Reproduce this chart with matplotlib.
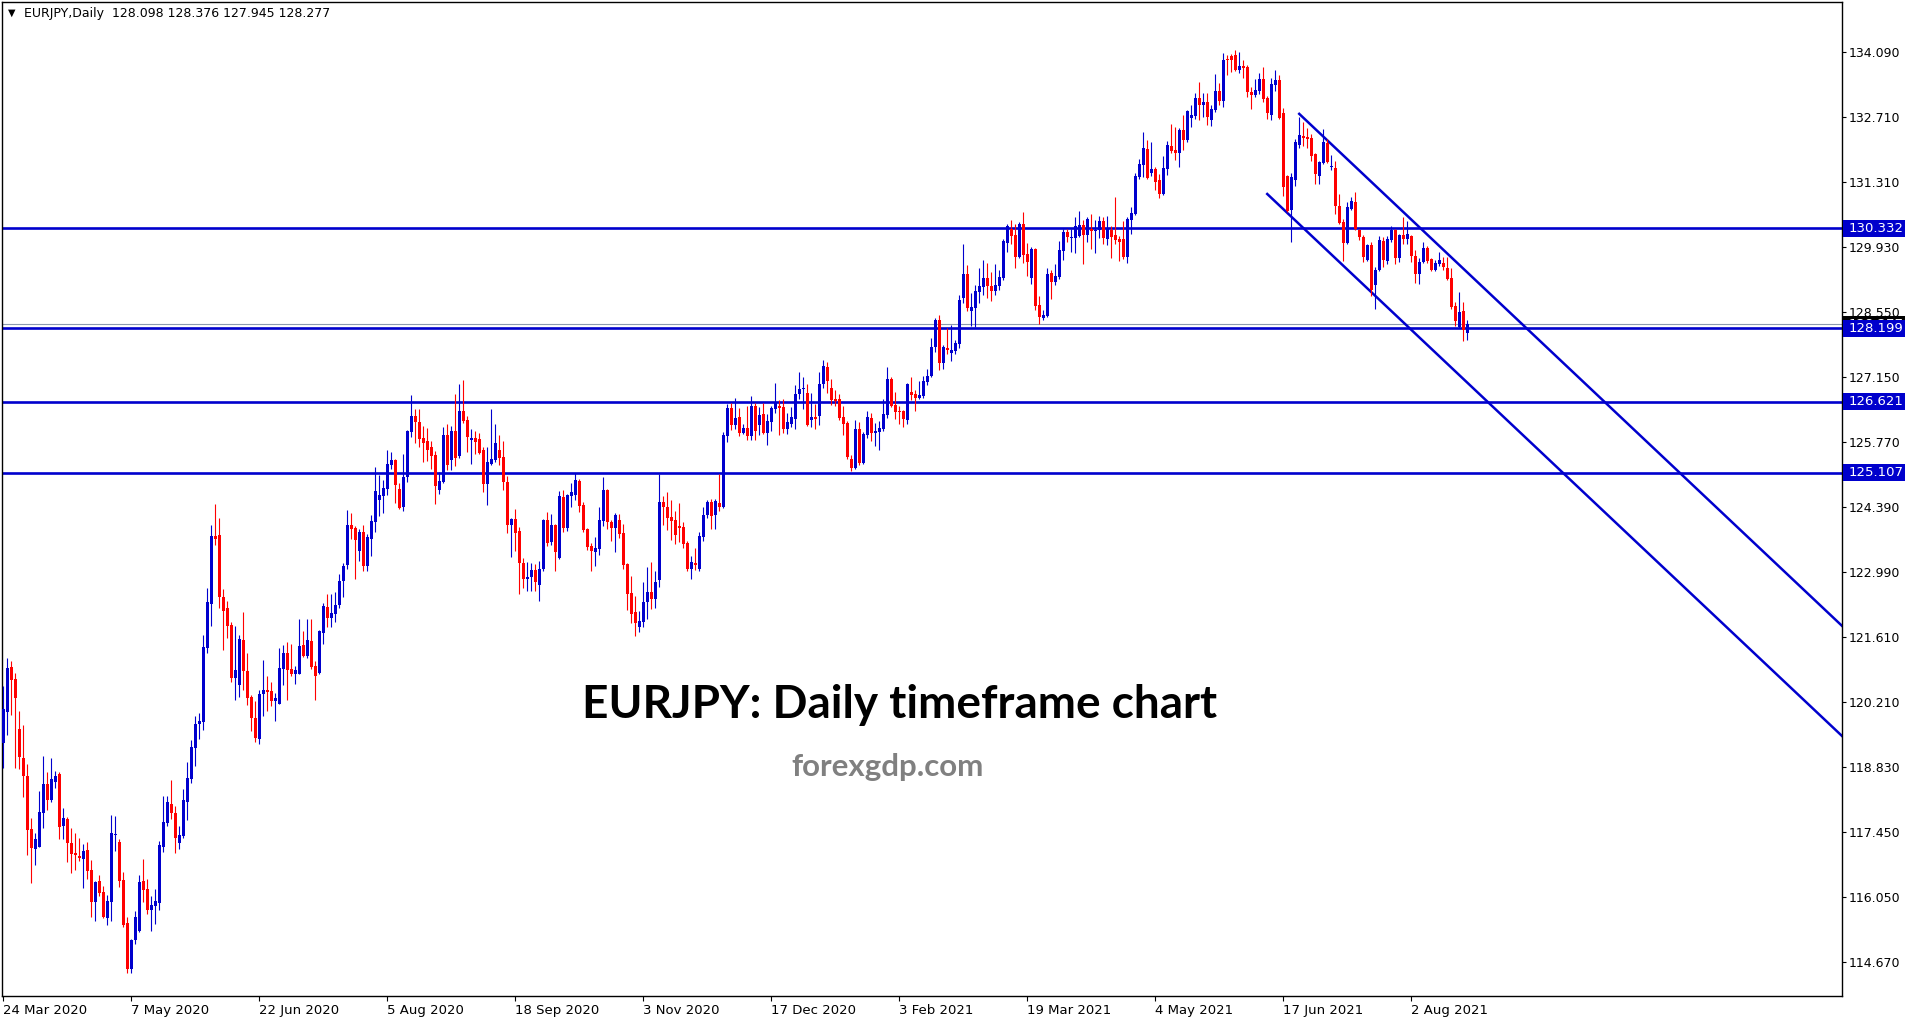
import numpy as np
import matplotlib.pyplot as plt
from matplotlib.patches import Rectangle
from matplotlib.transforms import blended_transform_factory

# EURJPY daily candles, 24 Mar 2020 .. 20 Aug 2021
opens = [
    119.34, 120.01, 120.96, 120.71, 119.64, 119.03, 118.64, 117.51, 117.09, 117.13,
    117.86, 118.47, 118.13, 118.52, 118.68, 117.58, 117.72, 117.21, 117.00, 116.93,
    116.87, 117.05, 116.63, 115.96, 116.40, 116.17, 115.62, 115.96, 117.38, 117.23,
    116.42, 115.50, 114.53, 115.13, 115.34, 116.40, 116.23, 115.79, 115.87, 115.94,
    117.13, 117.64, 118.04, 117.85, 117.22, 117.37, 118.09, 118.58, 119.24, 119.76,
    119.80, 121.38, 122.32, 123.76, 123.78, 122.46, 122.23, 121.86, 120.74, 120.59,
    121.54, 120.88, 120.33, 119.87, 119.42, 120.38, 120.48, 120.45, 120.25, 120.18,
    120.93, 121.26, 120.92, 120.82, 120.82, 121.44, 121.19, 121.52, 120.99, 120.84,
    121.70, 122.25, 122.01, 122.10, 122.29, 122.80, 123.15, 124.00, 123.94, 123.44,
    123.85, 123.13, 123.70, 124.05, 124.53, 124.62, 124.77, 125.28, 125.38, 124.77,
    124.37, 125.01, 125.98, 126.32, 126.19, 125.85, 125.79, 125.66, 125.49, 124.75,
    124.91, 125.92, 125.38, 126.00, 125.47, 126.43, 126.24, 125.81, 125.85, 125.83,
    125.60, 124.87, 125.30, 125.38, 125.60, 125.45, 124.92, 124.00, 124.12, 123.87,
    123.19, 122.85, 122.89, 123.04, 122.72, 123.06, 124.10, 123.64, 123.99, 123.30,
    124.60, 123.94, 124.62, 124.64, 124.94, 124.42, 123.92, 123.55, 123.43, 123.49,
    124.09, 124.75, 124.07, 123.94, 124.11, 123.83, 123.17, 122.55, 122.13, 121.81,
    121.93, 122.36, 122.57, 122.42, 122.83, 124.49, 124.39, 124.17, 124.11, 123.98,
    123.96, 123.62, 123.06, 123.19, 123.06, 123.75, 124.22, 124.49, 124.22, 124.47,
    124.37, 125.90, 126.49, 126.12, 126.30, 125.97, 126.06, 125.90, 126.54, 126.13,
    126.37, 125.97, 126.20, 126.47, 126.54, 126.52, 126.05, 126.15, 126.26, 126.79,
    126.90, 126.81, 126.24, 126.30, 126.32, 127.01, 127.37, 126.92, 126.69, 126.69,
    126.30, 126.17, 125.41, 125.21, 126.05, 125.32, 125.92, 126.28, 125.96, 125.98,
    126.05, 126.35, 127.11, 126.56, 126.43, 126.43, 126.24, 126.84, 126.79, 126.71,
    126.75, 127.05, 127.18, 127.80, 128.37, 127.45, 127.78, 127.67, 127.71, 127.86,
    128.84, 129.35, 128.56, 128.63, 128.97, 129.08, 129.27, 129.10, 128.99, 129.10,
    129.27, 130.02, 130.31, 130.18, 129.71, 130.42, 129.78, 129.27, 129.89, 128.69,
    128.41, 128.46, 129.37, 129.18, 129.29, 129.84, 130.25, 130.12, 130.12, 130.16,
    130.40, 130.18, 130.31, 130.27, 130.29, 130.48, 130.10, 130.29, 130.18, 130.10,
    130.10, 129.71, 130.50, 130.63, 131.42, 131.68, 132.02, 131.51, 131.59, 131.36,
    131.06, 131.59, 132.08, 132.00, 131.93, 132.43, 132.21, 132.68, 132.72, 133.11,
    132.96, 133.02, 132.64, 132.85, 133.26, 133.04, 133.94, 134.00, 134.03, 133.71,
    133.79, 133.77, 133.24, 133.17, 133.26, 133.51, 133.11, 132.75, 133.39, 133.49,
    132.79, 131.44, 130.72, 131.36, 132.10, 132.30, 132.28, 132.25, 131.91, 131.44,
    131.72, 132.15, 131.63, 131.61, 130.80, 130.46, 130.01, 130.74, 130.89, 130.29,
    130.14, 129.65, 129.97, 129.12, 129.44, 130.06, 129.63, 130.08, 130.29, 129.69,
    130.18, 130.10, 130.16, 129.74, 129.35, 129.61, 129.91, 129.67, 129.44, 129.57,
    129.59, 129.48, 129.27, 128.67, 128.22, 128.56, 128.098,
]
highs = [
    120.56, 121.15, 121.09, 120.84, 120.03, 119.73, 118.90, 117.75, 117.43, 118.32,
    119.07, 118.73, 119.03, 118.75, 118.73, 117.96, 117.77, 117.53, 117.42, 117.32,
    117.19, 117.24, 116.85, 116.40, 116.52, 116.29, 116.10, 117.81, 117.79, 117.29,
    116.59, 115.64, 115.16, 115.76, 116.53, 116.87, 116.44, 116.08, 116.23, 117.25,
    118.22, 118.21, 118.55, 118.01, 117.57, 118.36, 118.94, 119.41, 119.92, 119.98,
    121.65, 122.66, 123.99, 124.45, 124.15, 122.63, 122.37, 121.93, 121.85, 121.65,
    122.14, 121.26, 120.37, 120.24, 120.48, 121.12, 120.77, 120.65, 120.42, 121.38,
    121.44, 121.50, 121.45, 120.99, 121.99, 121.74, 121.99, 121.99, 121.09, 121.75,
    122.34, 122.52, 122.52, 122.57, 122.95, 123.18, 124.32, 124.26, 123.98, 123.91,
    124.00, 123.81, 124.21, 125.24, 125.06, 124.96, 125.60, 125.55, 125.40, 124.89,
    125.51, 126.02, 126.77, 126.47, 126.47, 126.11, 126.07, 125.79, 125.58, 125.13,
    126.09, 126.16, 126.11, 126.79, 127.00, 127.10, 126.32, 126.04, 126.00, 125.96,
    125.66, 125.66, 126.47, 126.15, 125.92, 125.79, 125.05, 124.14, 124.34, 123.95,
    123.29, 123.21, 123.19, 123.16, 123.23, 124.13, 124.27, 124.23, 124.02, 124.73,
    124.74, 124.66, 124.90, 125.10, 124.98, 124.49, 123.94, 123.62, 123.74, 124.37,
    125.03, 124.77, 124.11, 124.26, 124.24, 124.02, 123.19, 122.91, 122.49, 122.17,
    122.79, 123.11, 123.21, 123.02, 125.09, 124.62, 124.71, 124.54, 124.30, 124.47,
    124.07, 123.66, 123.33, 123.50, 123.85, 124.37, 124.54, 124.56, 124.56, 125.09,
    125.98, 126.58, 126.60, 126.71, 126.50, 126.15, 126.54, 126.75, 126.59, 126.52,
    126.61, 126.37, 126.54, 127.03, 126.66, 126.69, 126.39, 126.52, 126.98, 127.26,
    127.16, 127.01, 126.81, 126.58, 127.26, 127.52, 127.48, 127.11, 126.88, 126.79,
    126.54, 126.22, 125.49, 126.24, 126.20, 125.98, 126.43, 126.39, 126.17, 126.22,
    126.69, 127.37, 127.16, 126.84, 126.54, 126.45, 127.03, 127.16, 126.88, 127.07,
    127.18, 127.33, 127.99, 128.41, 128.48, 127.84, 128.20, 128.27, 127.94, 128.91,
    129.99, 129.54, 128.95, 129.12, 129.48, 129.65, 129.59, 129.40, 129.57, 129.44,
    130.10, 130.42, 130.50, 130.42, 130.46, 130.67, 130.01, 129.93, 129.91, 128.88,
    128.58, 129.48, 129.44, 129.57, 130.06, 130.31, 130.31, 130.31, 130.57, 130.70,
    130.50, 130.57, 130.63, 130.50, 130.59, 130.57, 130.59, 130.38, 130.99, 130.16,
    130.48, 130.57, 130.78, 131.51, 131.81, 132.38, 132.21, 132.17, 131.64, 131.49,
    131.87, 132.19, 132.55, 132.49, 132.47, 132.75, 132.85, 132.96, 133.22, 133.45,
    133.22, 133.22, 132.96, 133.62, 133.43, 134.07, 134.03, 134.05, 134.13, 134.09,
    133.92, 133.81, 133.34, 133.51, 133.64, 133.77, 133.15, 133.54, 133.71, 133.60,
    132.90, 131.46, 131.51, 132.23, 132.70, 132.60, 132.47, 132.34, 131.93, 131.76,
    132.45, 132.23, 131.89, 131.76, 131.06, 130.53, 130.89, 130.99, 131.10, 130.31,
    130.18, 129.99, 130.04, 129.50, 130.16, 130.14, 130.16, 130.38, 130.31, 130.21,
    130.57, 130.48, 130.18, 129.86, 129.69, 130.04, 129.95, 129.69, 129.65, 129.82,
    129.71, 129.71, 129.48, 128.75, 128.97, 128.75, 128.376,
]
lows = [
    118.82, 119.51, 119.94, 118.82, 118.79, 118.20, 116.95, 116.36, 116.75, 117.12,
    117.52, 117.91, 118.09, 118.39, 117.30, 117.30, 116.81, 116.56, 116.64, 116.83,
    116.24, 116.45, 115.64, 115.55, 116.07, 115.61, 115.47, 115.55, 117.03, 116.28,
    115.42, 114.44, 114.44, 115.05, 115.31, 115.96, 115.70, 115.34, 115.49, 115.77,
    117.02, 117.58, 117.73, 117.00, 117.09, 117.32, 117.71, 118.50, 118.86, 119.44,
    119.63, 121.27, 121.85, 123.56, 122.23, 121.33, 121.59, 120.65, 120.27, 120.33,
    120.48, 120.16, 119.59, 119.37, 119.32, 119.91, 120.03, 120.14, 119.82, 120.18,
    120.59, 120.27, 120.77, 120.61, 120.82, 121.17, 121.15, 120.92, 120.27, 120.82,
    121.46, 121.82, 121.82, 121.92, 122.23, 122.46, 123.06, 123.70, 122.85, 123.23,
    123.02, 123.02, 123.34, 123.85, 124.19, 124.26, 124.64, 125.20, 124.47, 124.34,
    124.30, 124.92, 125.87, 125.75, 125.67, 125.35, 125.36, 125.20, 124.45, 124.66,
    124.89, 125.18, 125.17, 125.26, 125.42, 126.17, 125.55, 125.30, 125.51, 125.51,
    124.70, 124.43, 125.28, 125.34, 125.28, 124.74, 123.83, 123.32, 123.45, 122.53,
    122.66, 122.59, 122.59, 122.59, 122.38, 123.02, 123.54, 123.58, 123.02, 123.28,
    123.85, 123.87, 124.37, 124.52, 124.28, 123.85, 123.47, 123.02, 123.13, 123.36,
    123.98, 123.92, 123.66, 123.41, 123.72, 123.06, 122.19, 121.91, 121.63, 121.72,
    121.81, 121.98, 122.21, 122.23, 122.68, 124.00, 123.90, 123.68, 123.60, 123.64,
    123.51, 123.02, 122.85, 123.04, 123.02, 123.66, 124.15, 123.92, 123.92, 124.30,
    124.35, 125.77, 126.03, 126.05, 125.90, 125.93, 125.80, 125.80, 125.80, 125.92,
    125.94, 125.70, 126.01, 126.39, 125.92, 125.97, 125.94, 126.09, 126.05, 126.69,
    126.47, 126.11, 126.09, 126.05, 126.13, 126.92, 126.81, 126.56, 126.54, 126.24,
    125.92, 125.41, 125.15, 125.19, 125.28, 125.30, 125.85, 125.79, 125.68, 125.60,
    126.00, 126.28, 126.52, 126.26, 126.15, 126.09, 126.15, 126.67, 126.43, 126.69,
    126.71, 126.98, 127.16, 127.69, 127.30, 127.33, 127.65, 127.50, 127.65, 127.77,
    128.73, 128.56, 128.24, 128.22, 128.73, 128.90, 128.84, 128.78, 128.91, 129.01,
    129.22, 129.82, 129.99, 129.48, 129.69, 129.59, 129.31, 129.14, 128.58, 128.29,
    128.37, 128.44, 128.82, 129.12, 129.25, 129.65, 130.04, 129.82, 129.80, 130.14,
    129.57, 130.04, 129.89, 129.80, 130.12, 129.99, 129.97, 129.70, 129.99, 129.63,
    129.67, 129.59, 130.21, 130.61, 131.38, 131.42, 131.38, 131.44, 131.15, 130.97,
    131.04, 131.47, 131.93, 131.79, 131.64, 132.00, 132.17, 132.49, 132.66, 132.64,
    132.70, 132.53, 132.51, 132.81, 132.96, 132.92, 133.60, 133.66, 133.69, 133.64,
    133.54, 133.13, 132.87, 133.13, 133.19, 133.02, 132.66, 132.64, 133.26, 132.66,
    131.02, 130.67, 130.03, 131.23, 132.04, 132.08, 132.04, 131.76, 131.27, 131.27,
    131.70, 131.72, 131.57, 130.63, 130.42, 129.63, 129.99, 130.72, 130.29, 130.08,
    129.61, 129.63, 128.88, 128.61, 129.42, 129.50, 129.57, 130.04, 129.57, 129.61,
    129.99, 129.99, 129.61, 129.16, 129.14, 129.59, 129.59, 129.42, 129.42, 129.52,
    129.44, 129.22, 128.60, 128.24, 128.20, 127.92, 127.945,
]
closes = [
    120.06, 120.94, 120.69, 120.31, 119.05, 118.63, 117.49, 117.11, 117.29, 117.87,
    118.47, 118.13, 118.58, 118.64, 117.56, 117.74, 117.22, 116.98, 116.95, 116.89,
    117.04, 116.62, 115.96, 116.38, 116.15, 115.63, 115.97, 117.42, 117.41, 116.39,
    115.46, 114.53, 115.14, 115.63, 116.38, 116.21, 115.79, 115.89, 115.97, 117.17,
    117.66, 118.09, 117.84, 117.32, 117.38, 118.13, 118.60, 119.26, 119.75, 119.81,
    121.39, 122.35, 123.76, 123.70, 122.47, 122.17, 121.85, 120.74, 120.90, 121.56,
    120.89, 120.31, 119.88, 119.46, 120.39, 120.48, 120.44, 120.25, 120.30, 120.95,
    121.26, 120.91, 120.82, 120.90, 121.41, 121.19, 121.54, 120.97, 120.78, 121.73,
    122.27, 122.02, 122.12, 122.29, 122.80, 123.12, 124.00, 123.91, 123.68, 123.85,
    123.13, 123.73, 124.08, 124.72, 124.64, 124.79, 125.30, 125.38, 124.84, 124.36,
    125.02, 126.00, 126.32, 126.19, 125.84, 125.75, 125.60, 125.47, 124.83, 124.94,
    125.92, 125.28, 126.00, 125.43, 126.43, 126.22, 125.87, 125.85, 125.77, 125.53,
    124.87, 125.34, 125.40, 125.75, 125.43, 124.92, 124.00, 124.13, 123.83, 123.19,
    122.85, 122.89, 123.04, 122.77, 123.06, 124.11, 123.61, 123.99, 123.41, 124.62,
    123.94, 124.64, 124.69, 124.96, 124.41, 123.90, 123.53, 123.45, 123.51, 124.11,
    124.75, 124.05, 123.94, 124.22, 123.81, 123.15, 122.53, 122.10, 121.91, 121.95,
    122.36, 122.57, 122.42, 122.77, 124.49, 124.39, 124.15, 124.09, 123.79, 123.94,
    123.60, 123.06, 123.21, 123.15, 123.77, 124.22, 124.49, 124.19, 124.51, 124.39,
    125.92, 126.49, 126.12, 126.28, 125.97, 126.06, 125.90, 126.54, 126.01, 126.35,
    125.97, 126.22, 126.49, 126.63, 126.49, 126.05, 126.20, 126.30, 126.79, 126.90,
    126.93, 126.13, 126.30, 126.26, 127.01, 127.39, 127.07, 126.66, 126.64, 126.28,
    126.15, 125.45, 125.21, 126.05, 125.32, 125.94, 126.30, 125.96, 126.00, 126.07,
    126.37, 127.11, 126.54, 126.41, 126.41, 126.26, 127.01, 126.77, 126.71, 126.77,
    127.07, 127.18, 127.80, 128.37, 127.45, 127.80, 127.73, 127.73, 127.88, 128.80,
    129.35, 128.63, 128.65, 128.99, 129.10, 129.27, 129.10, 128.99, 129.12, 129.29,
    130.06, 130.38, 130.16, 129.71, 130.42, 129.76, 129.61, 129.89, 128.67, 128.43,
    128.48, 129.35, 129.18, 129.31, 129.87, 130.25, 130.14, 130.14, 130.38, 130.40,
    130.18, 130.53, 130.27, 130.29, 130.48, 130.12, 130.31, 130.14, 130.08, 130.04,
    129.71, 130.53, 130.65, 131.44, 131.70, 132.04, 131.40, 131.59, 131.32, 131.06,
    131.61, 132.10, 131.98, 131.93, 132.43, 132.21, 132.83, 132.75, 133.11, 132.96,
    133.02, 132.70, 132.87, 133.26, 133.04, 133.92, 133.92, 133.92, 133.71, 133.79,
    133.75, 133.24, 133.17, 133.28, 133.51, 133.09, 132.79, 133.41, 133.49, 132.68,
    131.21, 130.70, 131.42, 132.17, 132.32, 132.25, 132.23, 131.87, 131.49, 131.74,
    132.17, 131.74, 131.66, 130.80, 130.44, 130.01, 130.78, 130.91, 130.31, 130.14,
    129.71, 129.97, 129.01, 129.44, 130.08, 129.65, 130.10, 130.29, 129.69, 130.18,
    130.10, 130.21, 129.74, 129.35, 129.61, 129.91, 129.63, 129.44, 129.59, 129.65,
    129.50, 129.25, 128.65, 128.35, 128.54, 128.16, 128.277,
]

# horizontal support / resistance levels and current bid
levels = [130.332, 128.199, 126.621, 125.107]
bid = 128.277

# descending channel (bar index, price)
channel_upper = ([324, 459.75], [132.77, 121.84])
channel_lower = ([316, 459.75], [131.06, 119.49])

price_ticks = [134.090, 132.710, 131.310, 129.930, 128.550, 127.150, 125.770,
               124.390, 122.990, 121.610, 120.210, 118.830, 117.450, 116.050, 114.670]
date_ticks = list(range(0, 353, 32))
date_labels = ['24 Mar 2020', '7 May 2020', '22 Jun 2020', '5 Aug 2020', '18 Sep 2020',
               '3 Nov 2020', '17 Dec 2020', '3 Feb 2021', '19 Mar 2021', '4 May 2021',
               '17 Jun 2021', '2 Aug 2021']

BULL = '#0000CD'
BEAR = '#FF0000'
LINE = '#0000CD'

W, H = 1913, 1023
fig = plt.figure(figsize=(W / 100, H / 100), dpi=100)
ax = fig.add_axes([2 / W, 27 / H, 1840 / W, 994 / H])

o = np.array(opens)
c = np.array(closes)
hi = np.maximum(np.array(highs), np.maximum(o, c))
lo = np.minimum(np.array(lows), np.minimum(o, c))
x = np.arange(len(o))
cols = np.where(c >= o, BULL, BEAR)

ax.vlines(x, lo, hi, colors=cols, linewidth=0.8, zorder=3)
ax.bar(x, np.maximum(np.abs(c - o), 0.015), bottom=np.minimum(o, c), width=0.72,
       color=cols, linewidth=0, zorder=3)

ax.axhline(bid, color='#8c9aae', lw=0.8, zorder=1.8)
for lv in levels:
    ax.axhline(lv, color=LINE, lw=1.9, zorder=2)
ax.plot(*channel_upper, color=LINE, lw=1.8, zorder=2)
ax.plot(*channel_lower, color=LINE, lw=1.8, zorder=2)

ax.set_xlim(-0.325, 459.7)
ax.set_ylim(113.945, 135.157)

for s in ax.spines.values():
    s.set_linewidth(1.0)
    s.set_color('black')

ax.yaxis.tick_right()
ax.set_yticks(price_ticks)
ax.set_yticklabels(['%.3f' % t for t in price_ticks])
ax.tick_params(axis='y', direction='out', length=3, width=0.8, pad=1.5, labelsize=9)

ax.set_xticks(date_ticks)
ax.set_xticklabels(date_labels)
ax.tick_params(axis='x', direction='out', length=3.5, width=0.8, pad=2, labelsize=9.5)
for lab in ax.get_xticklabels():
    lab.set_horizontalalignment('left')
    lab.set_family(['Liberation Sans Narrow', 'DejaVu Sans'])

# price tags on the right scale
trans = blended_transform_factory(ax.transAxes, ax.transData)
px = (135.157 - 113.945) / 994
tag_w = 62 / 1840
tag_h = 17 * px


def price_tag(price, face, zo):
    ax.add_patch(Rectangle((1.0005, price - tag_h / 2), tag_w, tag_h, transform=trans,
                           facecolor=face, edgecolor='none', clip_on=False, zorder=zo))
    ax.text(1.0038, price, '%.3f' % price, transform=trans, color='white', fontsize=9.5,
            ha='left', va='center', clip_on=False, zorder=zo + 0.5)


price_tag(bid, 'black', 5)
for lv in levels:
    price_tag(lv, '#0000CC', 6)

# header and watermark text
fig.text(8 / W, 1 - 13 / H, '\u25bc', fontsize=7, va='center', ha='left')
fig.text(24 / W, 1 - 13 / H, 'EURJPY,Daily  128.098 128.376 127.945 128.277',
         fontsize=9, va='center', ha='left')
fig.text(900 / W, 1 - 705 / H, 'EURJPY: Daily timeframe chart', fontsize=33,
         fontweight='bold', family='Lato', ha='center', va='center')
fig.text(888 / W, 1 - 767 / H, 'forexgdp.com', fontsize=22.5, fontweight='bold',
         family='Lato', color='#808080', ha='center', va='center')

fig.savefig('out.png', dpi=100)
